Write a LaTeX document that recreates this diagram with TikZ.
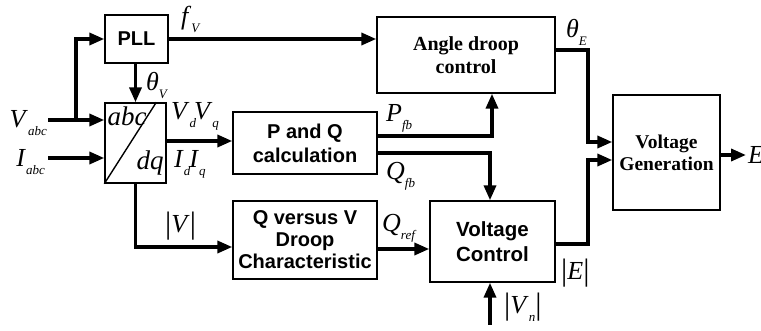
\documentclass[tikz,border=0pt]{standalone}
\usepackage{fontspec}
\setmainfont{Liberation Serif}
\newfontfamily\hsans{Liberation Sans}
\usetikzlibrary{arrows.meta,calc}
\newcommand{\iv}[2]{\textit{#1}\raisebox{-0.28em}{\fontsize{13}{13}\selectfont\textit{#2}}}
\newcommand{\bbar}{{\fontsize{31}{31}\selectfont\raisebox{-1pt}{|}}}
\begin{document}
\begin{tikzpicture}[x=1pt,y=-1pt,
  blk/.style={draw, line width=1.4pt, inner sep=0pt, align=center},
  sansb/.style={font=\hsans\bfseries\fontsize{20}{24}\selectfont},
  serifb/.style={font=\bfseries\fontsize{20}{23}\selectfont},
  conn/.style={line width=3.5pt, -{Triangle[length=15pt,width=12pt]}},
  wire/.style={line width=3.5pt},
  lab/.style={font=\fontsize{26}{26}\selectfont, inner sep=0pt, anchor=base west}]
\useasboundingbox (0,0) rectangle (761,331);
% blocks
\node[blk, sansb, minimum width=63pt, minimum height=48pt] (pll) at (136.5,39) {PLL};
\node[blk, minimum width=61pt, minimum height=80pt] (abc) at (135.5,143) {};
\node[blk, serifb, minimum width=178pt, minimum height=76pt] (ang) at (466,55) {Angle droop\\control};
\node[blk, sansb, minimum width=144pt, minimum height=62pt] (pq) at (305,143) {P and Q\\calculation};
\node[blk, sansb, font=\hsans\bfseries\fontsize{20}{22}\selectfont, minimum width=144pt, minimum height=78pt] (qv) at (305,240) {Q versus V\\Droop\\Characteristic};
\node[blk, sansb, font=\hsans\bfseries\fontsize{20.5}{25}\selectfont, minimum width=125pt, minimum height=81pt] (vc) at (492.5,241.5) {Voltage\\Control};
\node[blk, serifb, font=\bfseries\fontsize{19.5}{22}\selectfont, minimum width=107pt, minimum height=115pt] (vg) at (666.5,152.5) {Voltage\\Generation};
% abc/dq contents
\draw[line width=1.4pt] (abc.south west) -- ($(abc.north west)+(52,0)$);
\node[lab, anchor=north west, font=\itshape\fontsize{27}{27}\selectfont] (abct) at ($(abc.north west)+(3,4)$) {abc};
\node[lab, anchor=south east, font=\itshape\fontsize{27}{27}\selectfont] (dqt) at ($(abc.south east)+(-3,-8)$) {dq};
% free ends
\coordinate (vin) at (48,120);
\coordinate (iin) at (48,158);
\coordinate (br) at (76,120);
\coordinate (vn) at (490,325);
\coordinate (eout) at (746,155);
% connectors
\draw[wire] (vin) -- (br);
\draw[conn] (br) -- (abc.west |- br);
\draw[conn] (br) |- (pll.west);
\draw[conn] (iin) -- (abc.west |- iin);
\draw[conn] (pll.south -| abc.north) -- (abc.north);
\draw[conn] (pll.east) -- (ang.west |- pll.east);
\draw[conn] (abc.east |- 0,141) -- (pq.west |- 0,141);
\draw[conn] (pq.east |- 0,136) -| (ang.south -| 492,0);
\draw[conn] (pq.east |- 0,153) -| (vc.north -| 490,0);
\draw[conn] (abc.south) |- (qv.west |- 0,247);
\draw[conn] (qv.east |- 0,249) -- (vc.west |- 0,249);
\draw[conn] (vn) -- (vc.south -| vn);
\draw[conn] (ang.east |- 0,50) -- (588,50) -- (588,142) -- (vg.west |- 0,142);
\draw[conn] (vc.east |- 0,244) -- (588,244) -- (588,160) -- (vg.west |- 0,160);
\draw[conn] (vg.east |- eout) -- (eout);
% labels
\node[lab, anchor=base east] (lvabc) at (47,128) {\iv{V}{abc}};
\node[lab, anchor=base east] (liabc) at (45,167) {\iv{I}{abc}};
\node[lab] (lthv) at (146,91) {\iv{θ}{V}};
\node[lab] (lfv) at (181,25) {\iv{f}{V}};
\node[lab] (lvdq) at (171,120) {\iv{V}{d}\kern-2pt\iv{V}{q}};
\node[lab] (lidq) at (174,168) {\iv{I}{d}\kern-1pt\iv{I}{q}};
\node[lab] (lpfb) at (386,122) {\iv{P}{fb}};
\node[lab] (lqfb) at (386,180) {\iv{Q}{fb}};
\node[lab] (lqref) at (382,232) {\iv{Q}{ref}};
\node[lab] (lv) at (165,233) {\bbar\textit{V}\bbar};
\node[lab] (lvn) at (504,314) {\bbar\iv{V}{n}\bbar};
\node[lab] (le) at (561,280) {\bbar\textit{E}\bbar};
\node[lab] (lthe) at (566,38) {\iv{θ}{E}};
\node[lab] (leo) at (748,164) {\textit{E}};
\end{tikzpicture}
\end{document}
